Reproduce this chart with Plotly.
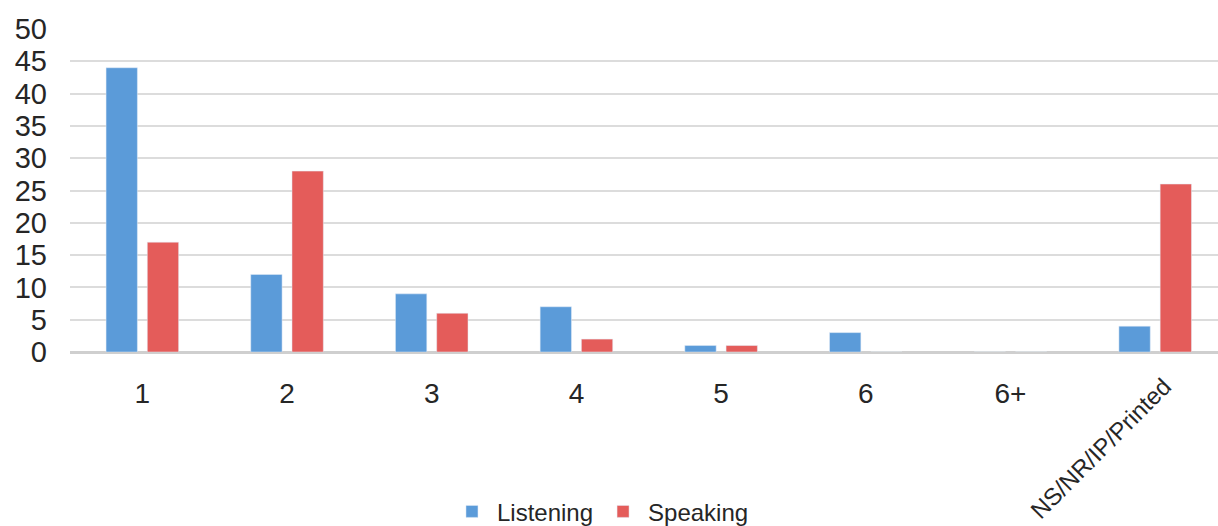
import plotly.graph_objects as go

categories = ["1", "2", "3", "4", "5", "6", "6+", "NS/NR/IP/Printed"]
listening = [44, 12, 9, 7, 1, 3, 0, 4]
speaking = [17, 28, 6, 2, 1, 0, 0, 26]
y_ticks = list(range(0, 51, 5))

BLUE = "#5B9BD9"
RED = "#E45C5A"
FONT = "Liberation Sans, Arial, sans-serif"

fig = go.Figure()
fig.add_trace(go.Bar(name="Listening", x=categories, y=listening, marker_color=BLUE))
fig.add_trace(go.Bar(name="Speaking", x=categories, y=speaking, marker_color=RED))

ticktext = [c if i < len(categories) - 1 else "" for i, c in enumerate(categories)]

fig.update_layout(
    width=1218, height=526,
    margin=dict(l=70, r=0, t=29, b=174),
    paper_bgcolor="white", plot_bgcolor="white",
    barmode="group", bargap=0.43, bargroupgap=0.24,
    font=dict(family=FONT, color="#262626"),
    showlegend=True,
    legend=dict(orientation="h", xref="container", yref="container",
                x=0.493, xanchor="center", y=0.027, yanchor="middle",
                font=dict(size=24, color="#262626"), itemwidth=40),
    xaxis=dict(tickmode="array", tickvals=categories, ticktext=ticktext,
               range=[-0.5, 7.434],
               tickfont=dict(size=28, color="#262626"), ticklabelstandoff=22,
               showgrid=False, showline=False, zeroline=False),
    yaxis=dict(range=[0, 50], tickvals=y_ticks, tickfont=dict(size=29, color="#262626"),
               showgrid=True, gridcolor="#dcdcdc", gridwidth=2,
               zeroline=True, zerolinecolor="#cfcfcf", zerolinewidth=3,
               ticklabelstandoff=22, showline=False),
)

fig.add_annotation(x=categories[-1], xref="x", y=0, yref="paper",
                   text=categories[-1], textangle=-45, showarrow=False,
                   xanchor="center", yanchor="middle", xshift=-55, yshift=-96,
                   font=dict(size=24, color="#262626", family=FONT))

fig.write_html("out.html")
